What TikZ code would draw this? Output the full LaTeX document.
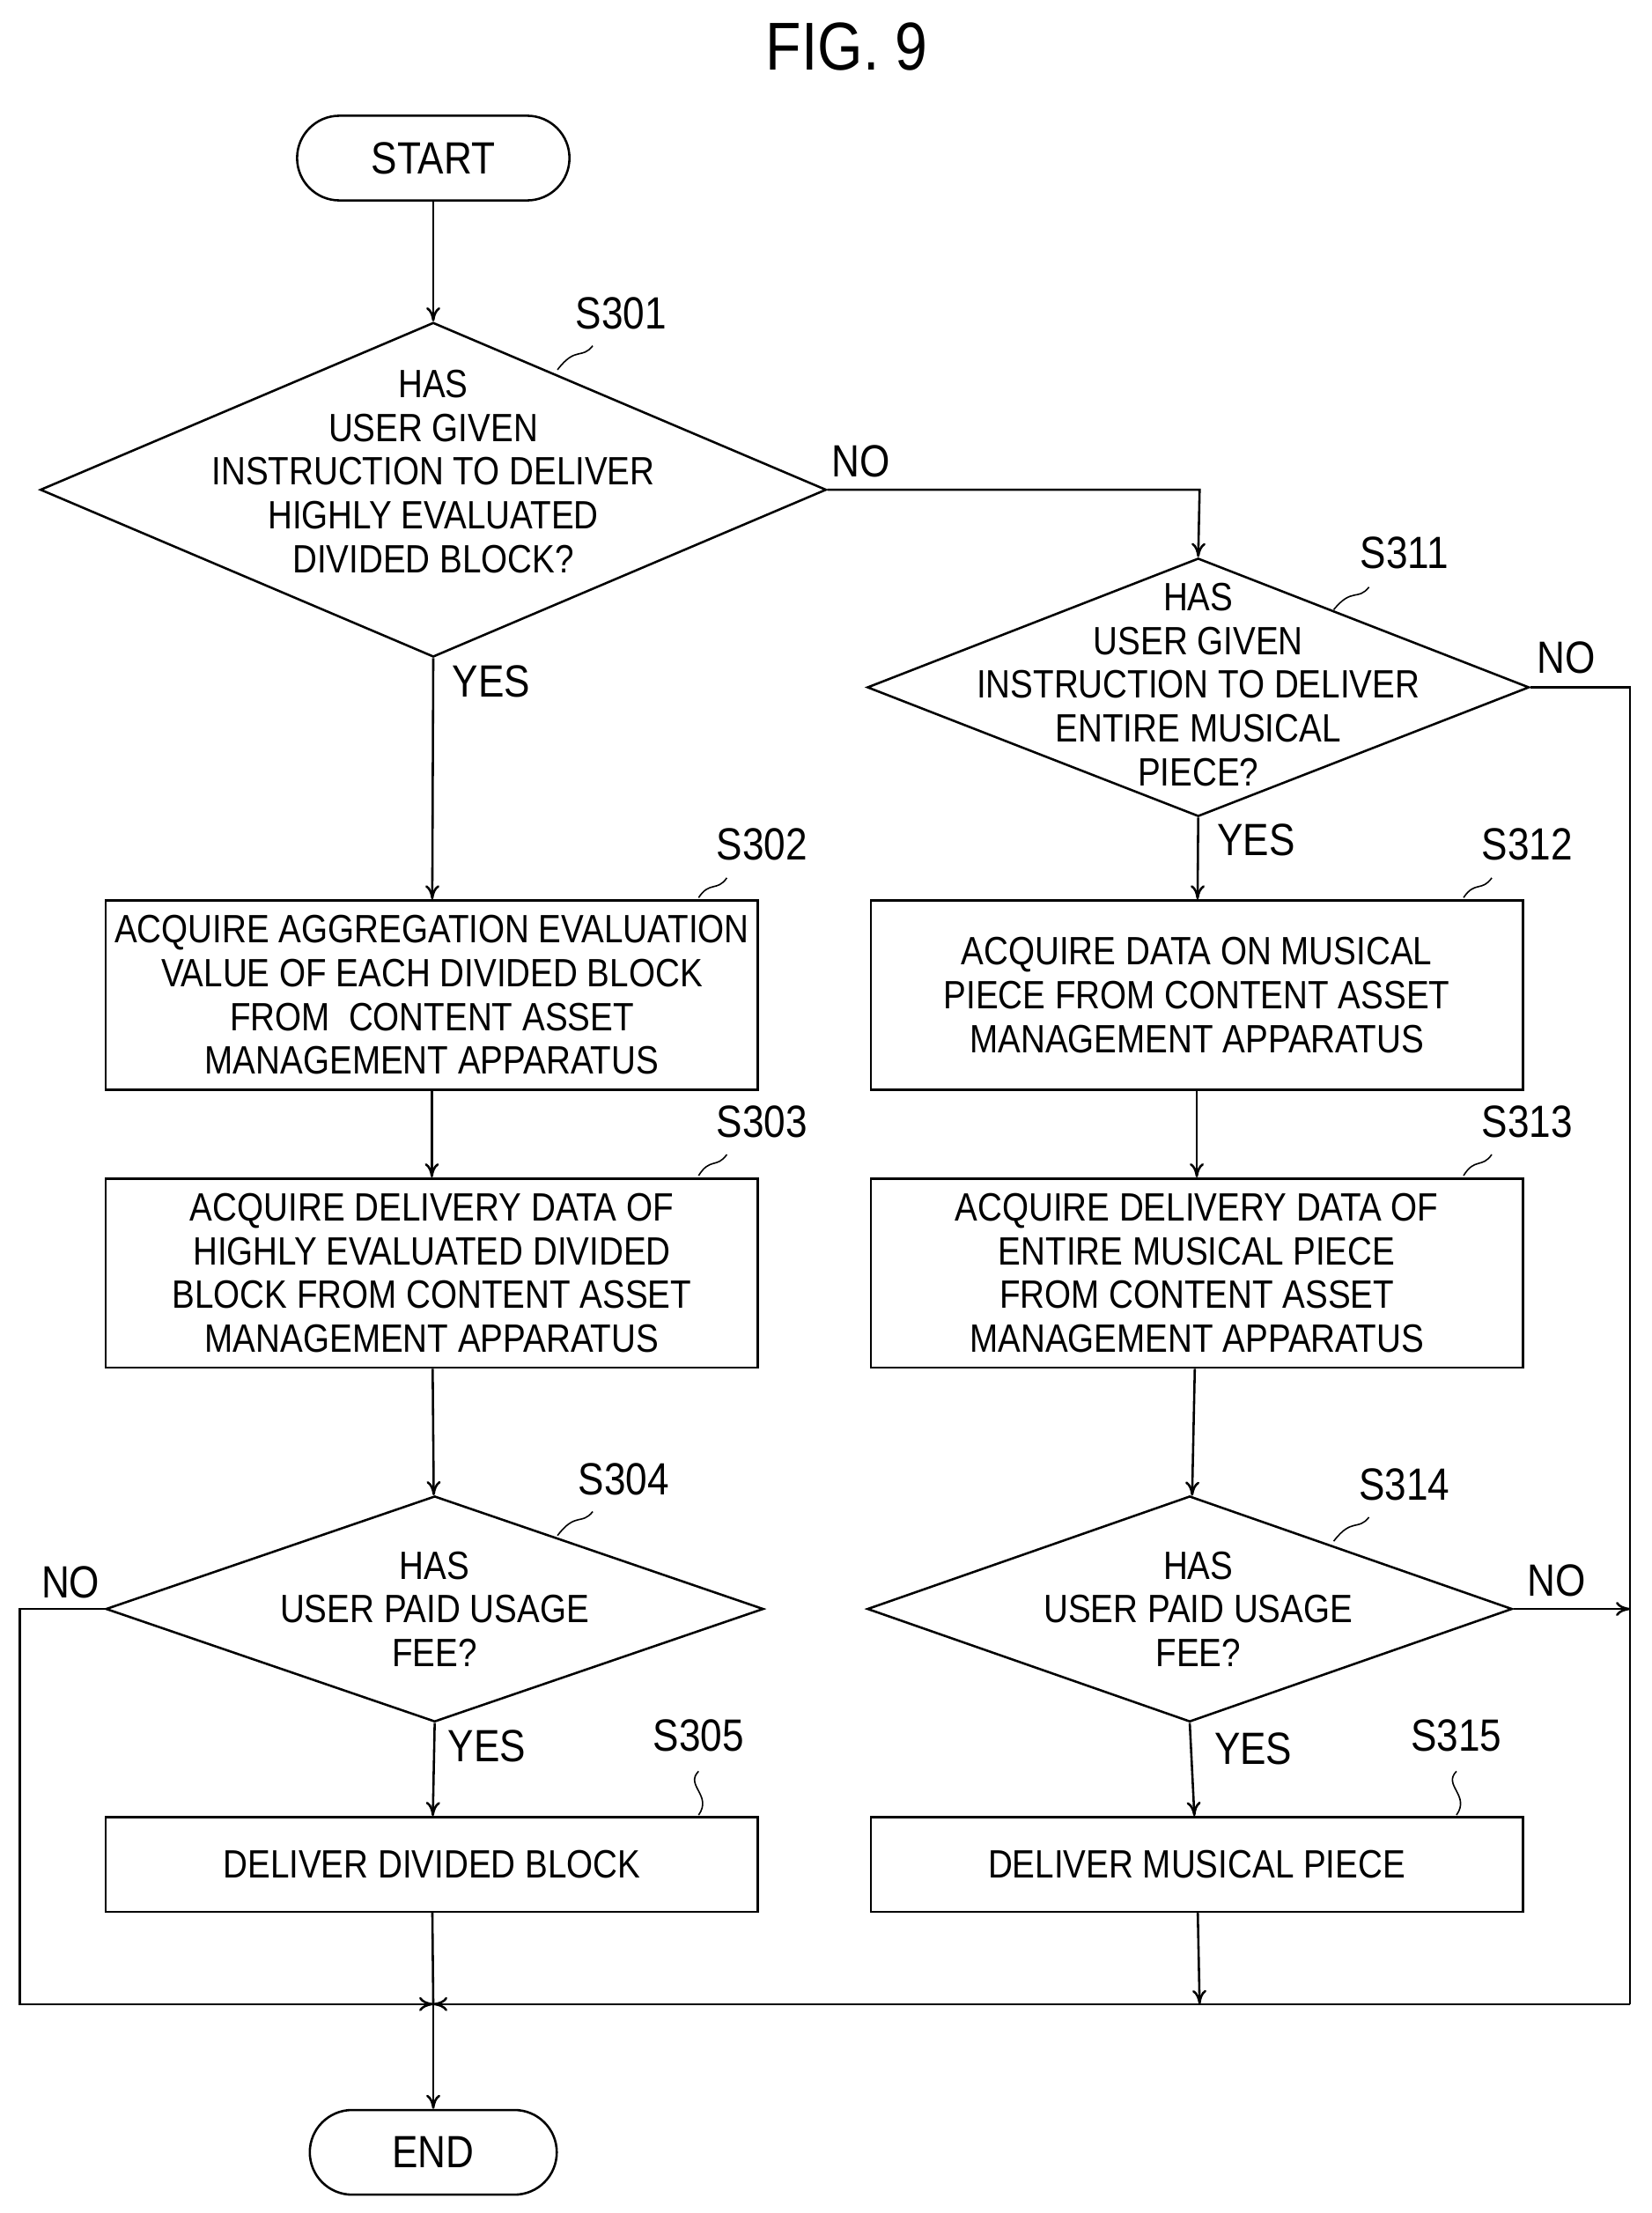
\documentclass[tikz,border=0pt]{standalone}
\usepackage{fontspec}
\setmainfont[FakeStretch=0.86]{Liberation Sans}
\usetikzlibrary{shapes.geometric,arrows.meta}
\begin{document}
\begin{tikzpicture}[x=0.5pt,y=-0.5pt,line width=0.8pt,>={To[length=5pt,width=5pt]},
  txt/.style={font=\fontsize{14}{15.5}\selectfont,align=center,inner sep=0},
  lab/.style={font=\fontsize{16}{18}\selectfont,inner sep=0},
  box/.style={draw,rectangle,minimum width=231pt,minimum height=67pt,inner sep=0,font=\fontsize{14}{15.5}\selectfont,align=center},
  sbox/.style={box,minimum height=33.5pt},
  dia/.style={draw,diamond,inner sep=0},
  term/.style={draw,rounded corners=15pt,inner sep=0,font=\fontsize{16}{18}\selectfont}]
\useasboundingbox (0,0) rectangle (1170,1568);
\node[font=\fontsize{24}{26}\selectfont] (fig) at (600,33) {FIG. 9};
\node[term,minimum width=96.5pt,minimum height=30pt] (start) at (307,112) {START};
\node[dia,minimum width=278.5pt,minimum height=118.5pt] (d1) at (307,347) {};
\node[txt] (t1) at (307,334) {HAS\\USER GIVEN\\INSTRUCTION TO DELIVER\\HIGHLY EVALUATED\\DIVIDED BLOCK?};
\node[box] (b2) at (306,705) {ACQUIRE AGGREGATION EVALUATION\\VALUE OF EACH DIVIDED BLOCK\\FROM\ \ CONTENT ASSET\\MANAGEMENT APPARATUS};
\node[box] (b3) at (306,902) {ACQUIRE DELIVERY DATA OF\\HIGHLY EVALUATED DIVIDED\\BLOCK FROM CONTENT ASSET\\MANAGEMENT APPARATUS};
\node[dia,minimum width=233pt,minimum height=80pt] (d4) at (308,1140) {};
\node[txt] (t4) at (308,1140) {HAS\\USER PAID USAGE\\FEE?};
\node[sbox] (b5) at (306,1321) {DELIVER DIVIDED BLOCK};
\node[dia,minimum width=234.5pt,minimum height=91.5pt] (d11) at (849,487) {};
\node[txt] (t11) at (849,485) {HAS\\USER GIVEN\\INSTRUCTION TO DELIVER\\ENTIRE MUSICAL\\PIECE?};
\node[box] (b12) at (848,705) {ACQUIRE DATA ON MUSICAL\\PIECE FROM CONTENT ASSET\\MANAGEMENT APPARATUS};
\node[box] (b13) at (848,902) {ACQUIRE DELIVERY DATA OF\\ENTIRE MUSICAL PIECE\\FROM CONTENT ASSET\\MANAGEMENT APPARATUS};
\node[dia,minimum width=228.5pt,minimum height=80pt] (d14) at (843,1140) {};
\node[txt] (t14) at (849,1140) {HAS\\USER PAID USAGE\\FEE?};
\node[sbox] (b15) at (848,1321) {DELIVER MUSICAL PIECE};
\node[term,minimum width=87.5pt,minimum height=30pt] (end) at (307,1525) {END};
\coordinate (J) at (307,1420);
\coordinate (nr) at (850,347);
\coordinate (r1) at (1155,487);
\coordinate (r2) at (1155,1420);
\coordinate (l1) at (14,1140);
\coordinate (l2) at (14,1420);
\coordinate (m2) at (850,1420);
% step labels
\foreach \n/\x/\y in {S301/440/222,S311/995/392,S302/540/598,S303/540/795,S304/442/1048,S305/495/1230,S312/1082/598,S313/1082/795,S314/995/1052,S315/1032/1230}
  \node[lab] (l\n) at (\x,\y) {\n};
\draw[line width=0.5pt] (420,245) .. controls (412,255) and (408,245) .. (395,262);
\draw[line width=0.5pt] (970,416) .. controls (962,426) and (958,416) .. (945,432);
\draw[line width=0.5pt] (515,622) .. controls (508,632) and (503,624) .. (495,636);
\draw[line width=0.5pt] (515,818) .. controls (508,828) and (503,820) .. (495,833);
\draw[line width=0.5pt] (420,1071) .. controls (412,1081) and (408,1071) .. (395,1088);
\draw[line width=0.5pt] (1057,622) .. controls (1050,632) and (1045,624) .. (1037,636);
\draw[line width=0.5pt] (1057,818) .. controls (1050,828) and (1045,820) .. (1037,833);
\draw[line width=0.5pt] (970,1075) .. controls (962,1085) and (958,1075) .. (945,1092);
\draw[line width=0.5pt] (495,1255) .. controls (485,1265) and (505,1272) .. (495,1286);
\draw[line width=0.5pt] (1032,1255) .. controls (1022,1265) and (1042,1272) .. (1032,1286);
% connectors
\draw[->] (start) -- (d1);
\draw[->] (d1.south) -- (b2);
\draw[->] (b2) -- (b3);
\draw[->] (b3) -- (d4);
\draw[->] (d4.south) -- (b5);
\draw (b5) -- (J);
\draw[->] (J) -- (end);
\draw[->] (d1.east) -- (nr) -- (d11.north);
\draw[->] (d11.south) -- (b12);
\draw[->] (b12) -- (b13);
\draw[->] (b13) -- (d14);
\draw[->] (d14.south) -- (b15);
\draw[->] (b15) -- (m2);
\draw (d11.east) -- (r1) -- (r2);
\draw[->] (r2) -- (J);
\draw[->] (d14.east) -- (1155,1140);
\draw[->] (d4.west) -- (l1) -- (l2) -- (J);
\node[lab] (n1) at (610,327) {NO};
\node[lab] (y1) at (348,483) {YES};
\node[lab] (n11) at (1110,466) {NO};
\node[lab] (y11) at (890,595) {YES};
\node[lab] (n4) at (50,1121) {NO};
\node[lab] (y4) at (345,1237) {YES};
\node[lab] (n14) at (1103,1120) {NO};
\node[lab] (y14) at (888,1239) {YES};
\end{tikzpicture}
\end{document}
